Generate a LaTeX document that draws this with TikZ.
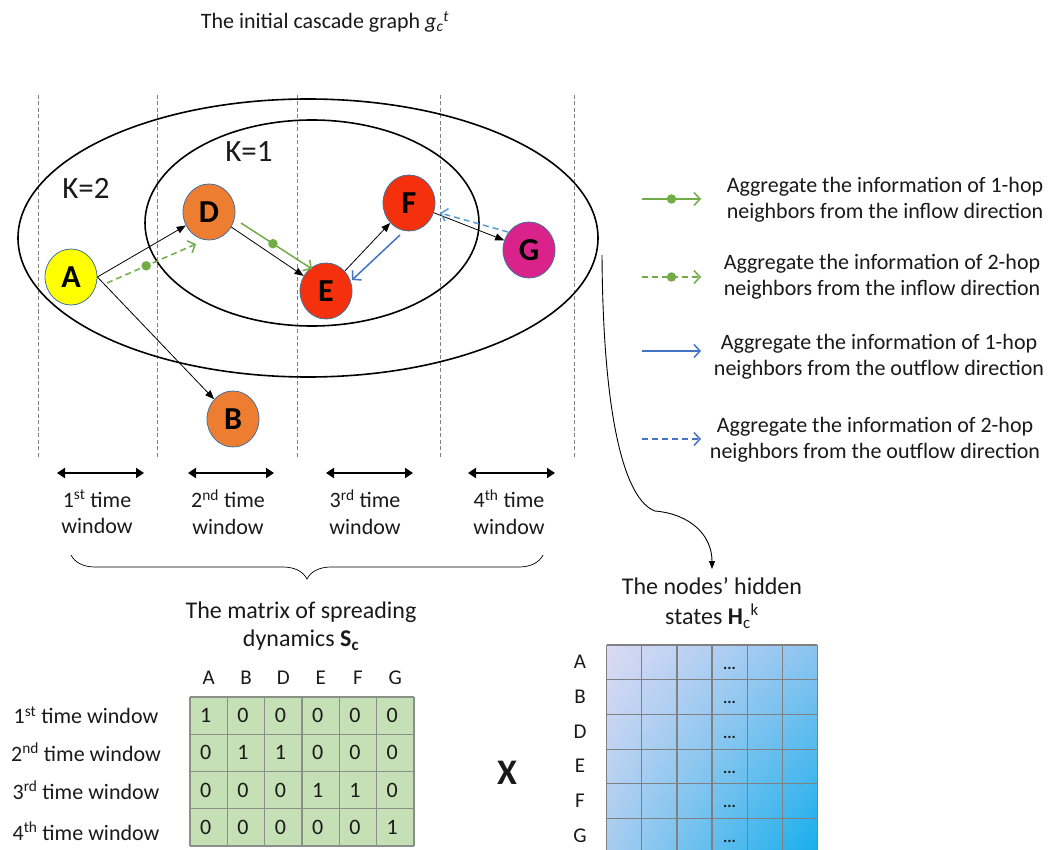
\documentclass[tikz,border=0pt]{standalone}
\usepackage{fontspec}
\setmainfont{Carlito}
\usetikzlibrary{arrows.meta,shapes.geometric,decorations.pathreplacing,calc,shadings}
\definecolor{cgreen}{HTML}{70AD47}
\definecolor{cblue}{HTML}{4472C4}
\definecolor{clblue}{HTML}{5B9BD5}
\definecolor{cyel}{HTML}{FFFF00}
\definecolor{corange}{HTML}{ED7D31}
\definecolor{cred}{HTML}{F4310C}
\definecolor{cmag}{HTML}{D9238B}
\definecolor{cborder}{HTML}{41719C}
\definecolor{cmfill}{HTML}{C5E0B4}
\definecolor{cgrid}{HTML}{8A8F88}
\definecolor{ctext}{HTML}{1A1A1A}
\definecolor{hul}{RGB}{220,218,244}
\definecolor{hur}{RGB}{140,196,240}
\definecolor{hll}{RGB}{166,204,240}
\definecolor{hlr}{RGB}{22,174,236}
\newcommand\fsz[2]{\fontsize{#1}{#2}\selectfont}
\begin{document}
\begin{tikzpicture}[x=1pt,y=-1pt,
  txt/.style={inner sep=0pt, text=ctext, align=center},
  gn/.style={ellipse, draw=cborder, line width=0.8pt, minimum width=52pt, minimum height=56pt, inner sep=0pt, font=\fsz{32}{34}\bfseries},
  blk/.style={line width=0.8pt, -{Triangle[length=9pt,width=7pt]}},
  gsol/.style={cgreen, line width=1.5pt, -{Straight Barb[length=6pt,width=13pt]}},
  gdsh/.style={cgreen, line width=1.5pt, dash pattern=on 6pt off 4pt, -{Straight Barb[length=6pt,width=13pt]}},
  bsol/.style={cblue, line width=1.5pt, -{Straight Barb[length=6pt,width=13pt]}},
  bdsh/.style={clblue, line width=1.5pt, dash pattern=on 6pt off 4pt, -{Straight Barb[length=6pt,width=13pt]}},
  gdot/.style={circle, fill=cgreen, inner sep=0pt, minimum size=9.5pt},
  vdash/.style={gray, line width=0.7pt, dash pattern=on 4pt off 2.5pt},
  ell/.style={line width=1.6pt},
  twin/.style={line width=2.2pt, {Triangle[length=8pt,width=10pt]}-{Triangle[length=8pt,width=10pt]}},
  leg/.style={txt, font=\fsz{22}{26.5}},
]
\useasboundingbox (0,0) rectangle (1057,850);
\fill[white] (0,0) rectangle (1057,850);

% title
\node[txt, font=\fsz{22}{25}] (title) at (325,22) {The initial cascade graph \textit{g}\textsubscript{\textit{c}}\textsuperscript{\textit{t}}};

% time window separators
\foreach \x in {38,157,297,440,574} \draw[vdash] (\x,95) -- (\x,458);

% ellipses
\draw[ell] (308,238) ellipse [x radius=290, y radius=139];
\draw[ell] (312,223) ellipse [x radius=167, y radius=103];
\node[txt, font=\fsz{31}{33}] (k2) at (86,188) {K=2};
\node[txt, font=\fsz{31}{33}] (k1) at (249,152) {K=1};

% nodes
\node[gn, fill=cyel] (A) at (71,277) {A};
\node[gn, fill=corange] (D) at (209,212) {D};
\node[gn, fill=cred] (E) at (326,291) {E};
\node[gn, fill=cred] (F) at (409,203) {F};
\node[gn, fill=cmag] (G) at (529,250) {G};
\node[gn, fill=corange] (B) at (233,419) {B};

% black edges
\draw[blk] (A.east) -- (D);
\draw[blk] (A.east) -- (B);
\draw[blk] (D) -- (E);
\draw[blk] (E) -- (F);
\draw[blk] (F) -- (G);

% aggregation arrows
\draw[gdsh] ($(A)+(36,6)$) -- node[gdot, pos=0.44] (gd1) {} ($(D)+(-13,32)$);
\draw[gsol] ($(D)+(32,11)$) -- node[gdot, pos=0.45] (gd2) {} ($(E)+(-14,-22)$);
\draw[bsol] ($(F)+(-9,32)$) -- ($(E)+(26,-11)$);
\draw[bdsh] ($(G)+(-21,-18)$) -- ($(F)+(31,10)$);

% legend
\coordinate (l1a) at (642,199); \coordinate (l1b) at (701,199);
\draw[gsol] (l1a) -- node[gdot, pos=0.5] (ld1) {} (l1b);
\node[leg] (t1) at (885,200) {Aggregate the information of 1-hop\\neighbors from the inflow direction};
\coordinate (l2a) at (642,277); \coordinate (l2b) at (701,277);
\draw[gdsh] (l2a) -- node[gdot, pos=0.5] (ld2) {} (l2b);
\node[leg] (t2) at (882,277) {Aggregate the information of 2-hop\\neighbors from the inflow direction};
\coordinate (l3a) at (642,351); \coordinate (l3b) at (701,351);
\draw[bsol] (l3a) -- (l3b);
\node[leg] (t3) at (879,357) {Aggregate the information of 1-hop\\neighbors from the outflow direction};
\coordinate (l4a) at (642,439); \coordinate (l4b) at (701,439);
\draw[bdsh, cblue] (l4a) -- (l4b);
\node[leg] (t4) at (875,440) {Aggregate the information of 2-hop\\neighbors from the outflow direction};

% curve to hidden states
\coordinate (cs) at (602,255);
\coordinate (ce) at (712,569);
\draw[line width=0.9pt, -{Triangle[length=8pt,width=6pt]}] (cs) .. controls (603,420) and (625,500) .. (655,511) .. controls (690,514) and (712,535) .. (ce);

% time windows
\coordinate (w1a) at (57,473); \coordinate (w1b) at (144,473);
\coordinate (w2a) at (188,473); \coordinate (w2b) at (274,473);
\coordinate (w3a) at (326,473); \coordinate (w3b) at (413,473);
\coordinate (w4a) at (468,473); \coordinate (w4b) at (555,473);
\draw[twin] (w1a) -- (w1b);
\draw[twin] (w2a) -- (w2b);
\draw[twin] (w3a) -- (w3b);
\draw[twin] (w4a) -- (w4b);
\node[leg] (tw1) at (97,512) {1\textsuperscript{st} time\\window};
\node[leg] (tw2) at (228,512) {2\textsuperscript{nd} time\\window};
\node[leg] (tw3) at (365,512) {3\textsuperscript{rd} time\\window};
\node[leg] (tw4) at (509,512) {4\textsuperscript{th} time\\window};

% brace
\draw[line width=0.7pt, decorate, decoration={brace, mirror, amplitude=24pt}] (71,555) -- (543,555);

% spreading matrix
\node[txt, font=\fsz{24}{28}] (stitle) at (301,626) {The matrix of spreading\\dynamics \textbf{S}\textsubscript{\textbf{c}}};
\fill[cmfill] (190,697) rectangle (414,846);
\foreach \i in {0,...,6} \draw[cgrid, line width=1.2pt] ({190+37.33*\i},697) -- ({190+37.33*\i},846);
\foreach \j in {0,...,4} \draw[cgrid, line width=1.2pt] (190,{697+37.25*\j}) -- (414,{697+37.25*\j});
\foreach \c/\l in {0/A,1/B,2/D,3/E,4/F,5/G}
  \node[txt, font=\fsz{21}{24}] (sh\c) at ({190+37.33*(\c+0.5)},678) {\l};
\foreach \r/\vals in {0/{1,0,0,0,0,0},1/{0,1,1,0,0,0},2/{0,0,0,1,1,0},3/{0,0,0,0,0,1}}
  \foreach \v [count=\c from 0] in \vals
    \node[txt, font=\fsz{22}{24}] (s\r-\c) at ({190+37.33*(\c+0.5)-3},{697+37.25*(\r+0.5)}) {\v};
\node[txt, font=\fsz{22}{24}] (r1) at (86,715) {1\textsuperscript{st} time window};
\node[txt, font=\fsz{22}{24}] (r2) at (86,752) {2\textsuperscript{nd} time window};
\node[txt, font=\fsz{22}{24}] (r3) at (86,790) {3\textsuperscript{rd} time window};
\node[txt, font=\fsz{22}{24}] (r4) at (86,831) {4\textsuperscript{th} time window};

% times
\node[txt, font=\fsz{36}{38}\bfseries] (times) at (507,773) {X};

% hidden states
\node[txt, font=\fsz{24}{30}] (htitle) at (712,603) {The nodes’ hidden\\states \textbf{H}\textsubscript{c}\textsuperscript{k}};
\begin{scope}
\clip (0,0) rectangle (1057,850);
\shade[upper left=hul, upper right=hur, lower left=hll, lower right=hlr]
  (606.7,645) rectangle (817.3,853);
\foreach \i in {0,...,6} \draw[gray, line width=1.2pt] ({606.7+35.1*\i},645) -- ({606.7+35.1*\i},853);
\foreach \j in {0,...,5} \draw[gray, line width=1.2pt] (606.7,{645+34.7*\j}) -- (817.3,{645+34.7*\j});
\end{scope}
\foreach \l [count=\r from 0] in {A,B,D,E,F,G} {
  \node[txt, font=\fsz{21}{24}] (hl\r) at (580,{662+34.7*\r}) {\l};
  \node[txt, font=\fsz{16}{20}\bfseries] (hd\r) at ({606.7+35.1*3.5},{668+34.7*\r}) {...};
}
\end{tikzpicture}
\end{document}
